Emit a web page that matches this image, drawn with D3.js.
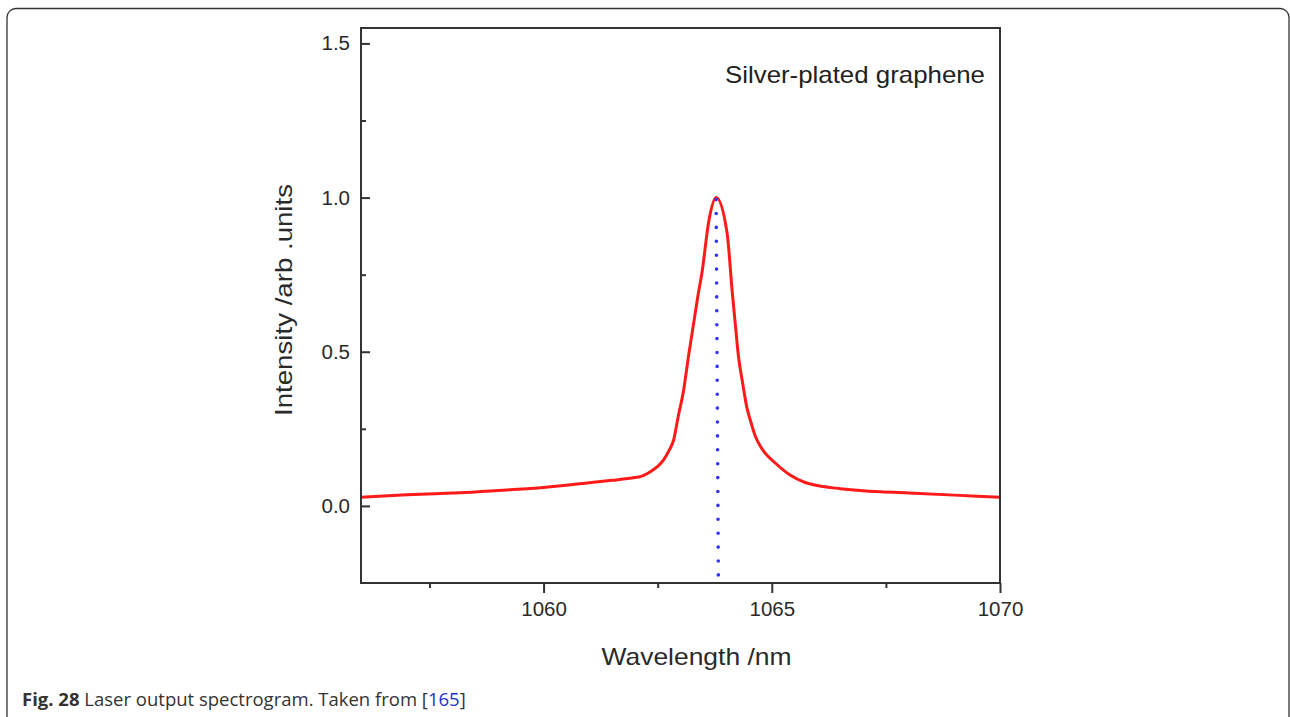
<!DOCTYPE html>
<html>
<head>
<meta charset="utf-8">
<script src="https://cdn.jsdelivr.net/npm/d3@7/dist/d3.min.js"></script>
<style>
  html, body { margin: 0; padding: 0; background: #fff; }
  svg { display: block; }
</style>
</head>
<body>
<svg id="chart" width="1290" height="717"></svg>
<script>
// ---- data ----
const wavelength = [1056, 1057, 1058, 1058.5, 1059, 1060, 1061, 1061.5, 1062, 1062.12, 1062.34, 1062.5, 1062.63, 1062.75, 1062.85, 1062.95, 1063.07, 1063.18, 1063.29, 1063.38, 1063.47, 1063.62, 1063.78, 1064.02, 1064.13, 1064.2, 1064.27, 1064.36, 1064.45, 1064.55, 1064.64, 1064.74, 1064.85, 1065.07, 1065.4, 1065.73, 1066, 1066.5, 1067, 1068, 1069, 1070];
const intensity  = [0.028, 0.036, 0.042, 0.045, 0.050, 0.060, 0.075, 0.083, 0.092, 0.095, 0.111, 0.128, 0.149, 0.180, 0.214, 0.290, 0.377, 0.490, 0.594, 0.680, 0.756, 0.923, 1.000, 0.886, 0.700, 0.590, 0.485, 0.400, 0.322, 0.268, 0.226, 0.196, 0.172, 0.140, 0.100, 0.076, 0.066, 0.056, 0.049, 0.042, 0.035, 0.028];
const peakMarkerX = [1063.78, 1063.83];   // dotted guide: top, bottom
const peakMarkerY = [1.0, -0.25];
const xMajorTicks = [1060, 1065, 1070];
const xMinorTicks = [1057.5, 1062.5, 1067.5];
const yMajorTicks = [0.0, 0.5, 1.0, 1.5];
const yMinorTicks = [0.25, 0.75, 1.25];
const xDomain = [1056, 1070];
const yDomain = [-0.25, 1.55];
const sampleLabel = "Silver-plated graphene";
const xTitle = "Wavelength /nm";
const yTitle = "Intensity /arb .units";

// ---- layout ----
const svg = d3.select("#chart");
const L = 361, R = 1000, T = 28, B = 583;
const x = d3.scaleLinear().domain(xDomain).range([L, R]);
const y = d3.scaleLinear().domain(yDomain).range([B, T]);
const axisColor = "#333";
const fontAxis = "'Liberation Sans', Arial, sans-serif";

// outer rounded border
svg.append("rect")
  .attr("x", 7).attr("y", 8.5).attr("width", 1282).attr("height", 718)
  .attr("rx", 9).attr("ry", 9)
  .attr("fill", "none").attr("stroke", "#333").attr("stroke-width", 1.3);

// clip for plot
svg.append("clipPath").attr("id", "plotclip")
  .append("rect").attr("x", L).attr("y", T).attr("width", R - L).attr("height", B - T);

// data line
const pts = wavelength.map((w, i) => [w, intensity[i]]);
svg.append("path")
  .datum(pts)
  .attr("clip-path", "url(#plotclip)")
  .attr("fill", "none")
  .attr("stroke", "#ff1a1a")
  .attr("stroke-width", 3)
  .attr("stroke-linejoin", "round")
  .attr("d", d3.line().x(d => x(d[0])).y(d => y(d[1])).curve(d3.curveMonotoneX));

// dotted guide at peak
svg.append("line")
  .attr("x1", x(peakMarkerX[0])).attr("y1", y(peakMarkerY[0]) + 2)
  .attr("x2", x(peakMarkerX[1])).attr("y2", y(peakMarkerY[1]) - 3)
  .attr("stroke", "#3333ff")
  .attr("stroke-width", 3.6)
  .attr("stroke-linecap", "round")
  .attr("stroke-dasharray", "0,13.9");

// Y axis (ticks inward)
const yAxisMajor = d3.axisLeft(y).tickValues(yMajorTicks).tickSize(-9).tickPadding(11)
  .tickFormat(d3.format(".1f"));
const gy = svg.append("g").attr("transform", `translate(${L},0)`).call(yAxisMajor);
const gy2 = svg.append("g").attr("transform", `translate(${L},0)`)
  .call(d3.axisLeft(y).tickValues(yMinorTicks).tickSize(-5).tickFormat(""));

// X axis (ticks outward)
const gx = svg.append("g").attr("transform", `translate(0,${B})`)
  .call(d3.axisBottom(x).tickValues(xMajorTicks).tickSize(10).tickPadding(8).tickFormat(d3.format("d")));
const gx2 = svg.append("g").attr("transform", `translate(0,${B})`)
  .call(d3.axisBottom(x).tickValues(xMinorTicks).tickSize(5).tickFormat(""));

[gy, gy2, gx, gx2].forEach(g => {
  g.select(".domain").remove();
  g.selectAll(".tick line").attr("stroke", axisColor).attr("stroke-width", 2);
  g.selectAll(".tick text")
    .attr("fill", "#2a2a2a")
    .style("font-family", fontAxis)
    .style("font-size", "20.5px");
});

// frame
svg.append("rect")
  .attr("x", L).attr("y", T).attr("width", R - L).attr("height", B - T)
  .attr("fill", "none").attr("stroke", axisColor).attr("stroke-width", 2);

// axis titles
svg.append("text")
  .attr("x", (L + R) / 2 + 16).attr("y", 665)
  .attr("text-anchor", "middle")
  .attr("fill", "#2a2a2a")
  .attr("textLength", 190).attr("lengthAdjust", "spacingAndGlyphs")
  .style("font-family", fontAxis).style("font-size", "24px")
  .text(xTitle);

svg.append("text")
  .attr("transform", `translate(292,${300}) rotate(-90)`)
  .attr("text-anchor", "middle")
  .attr("fill", "#2a2a2a")
  .attr("textLength", 232).attr("lengthAdjust", "spacingAndGlyphs")
  .style("font-family", fontAxis).style("font-size", "24px")
  .text(yTitle);

// sample label
svg.append("text")
  .attr("x", 985).attr("y", 83)
  .attr("text-anchor", "end")
  .attr("fill", "#222")
  .attr("textLength", 260).attr("lengthAdjust", "spacingAndGlyphs")
  .style("font-family", fontAxis).style("font-size", "24px")
  .text(sampleLabel);

// caption
const cap = svg.append("text")
  .attr("x", 22).attr("y", 706)
  .attr("fill", "#333")
  .style("font-family", "'Open Sans', 'Noto Sans', sans-serif")
  .style("font-size", "18.5px");
cap.append("tspan").style("font-weight", "bold").text("Fig. 28");
cap.append("tspan").text(" Laser output spectrogram. Taken from [");
cap.append("tspan").attr("fill", "#2233cc").text("165");
cap.append("tspan").text("]");
</script>
</body>
</html>
